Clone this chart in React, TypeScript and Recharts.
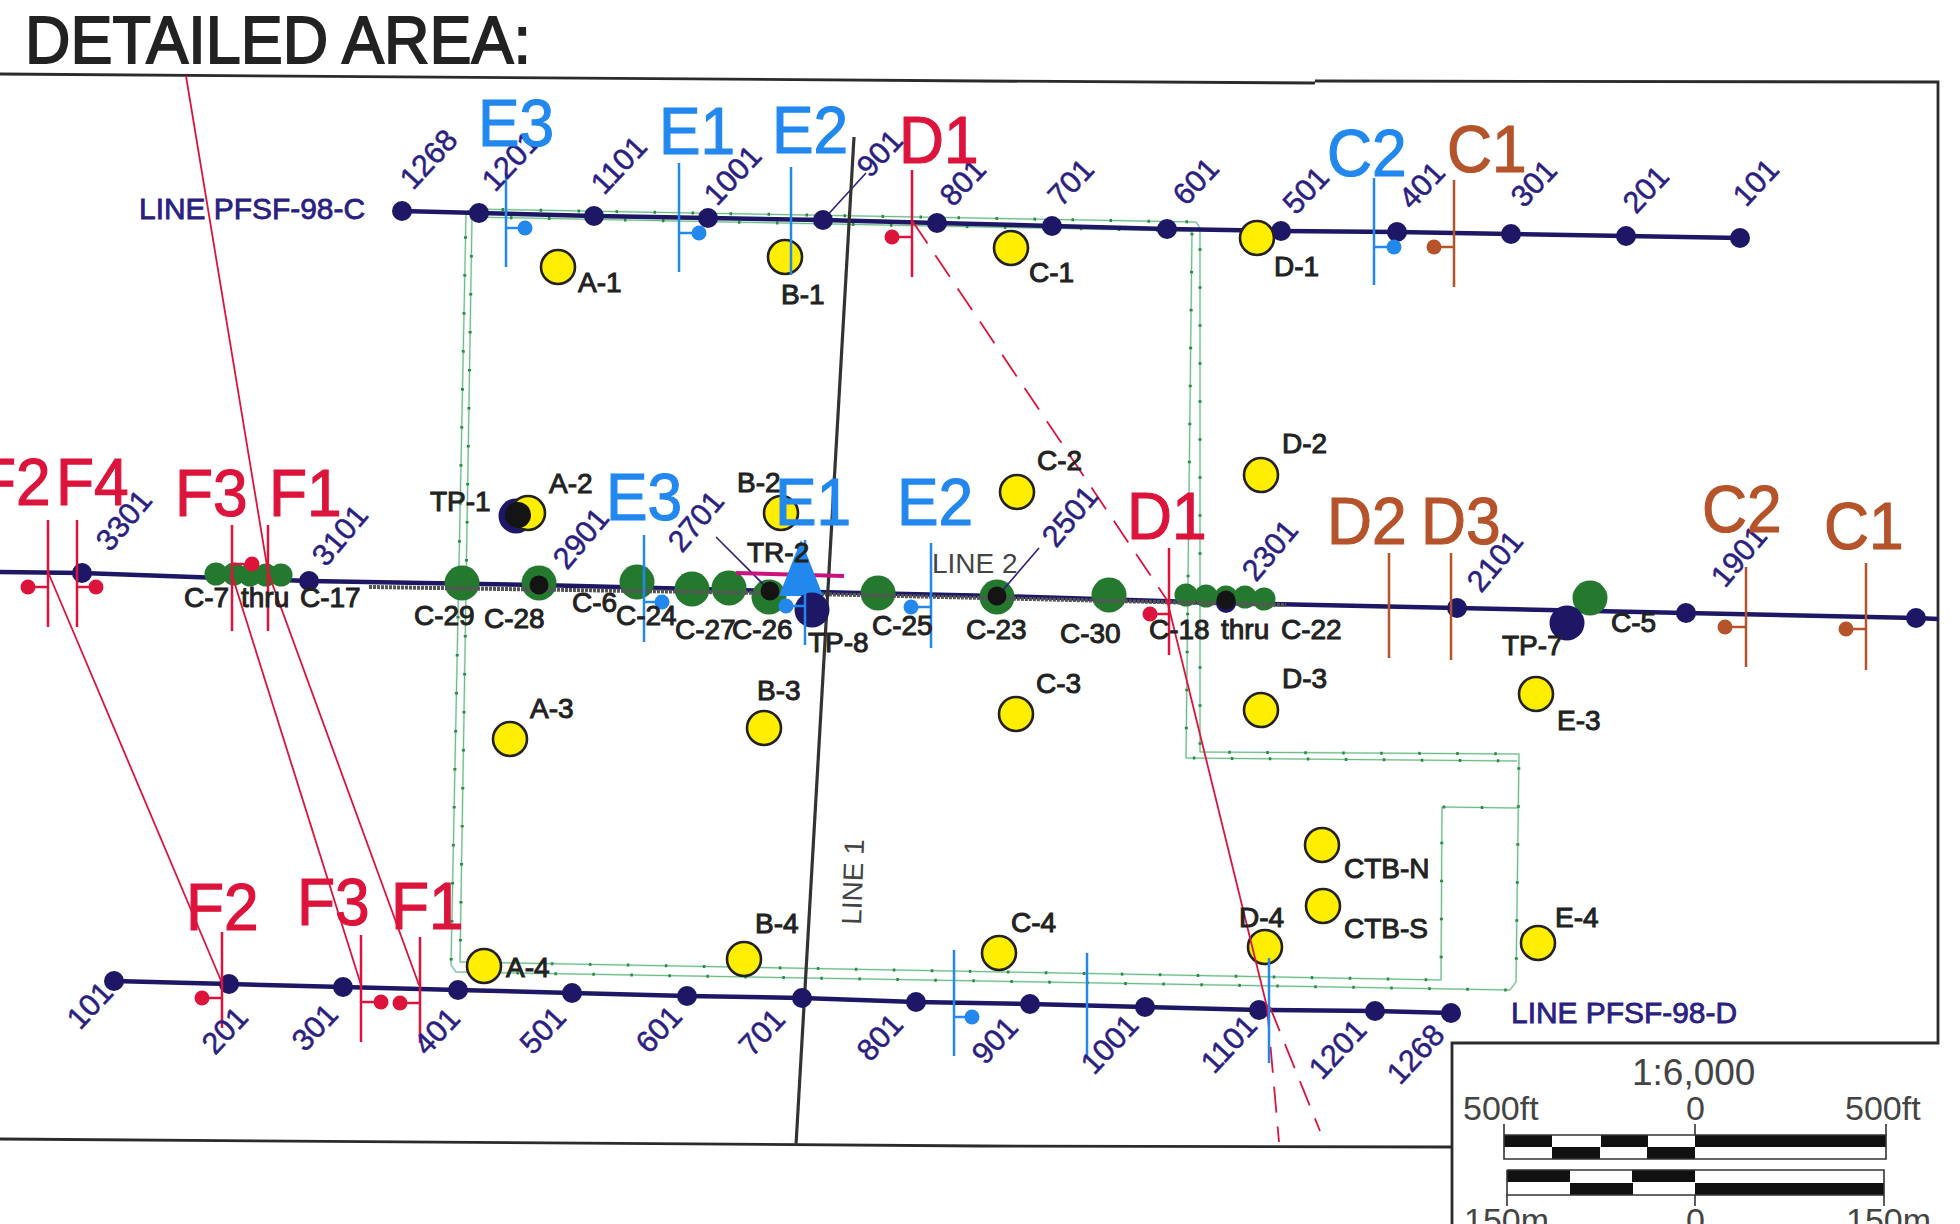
import React from 'react';
import { ScatterChart, Scatter, XAxis, YAxis } from 'recharts';

type P = { x: number; y: number };
type L = { name: string; x: number; y: number };
type T = { x: number; top: number; bottom: number; dotX?: number; dotY?: number };

const FONT = '"Liberation Sans", Arial, sans-serif';
const NAVY = '#1d1766';
const NAVY_TEXT = '#2a2080';
const BLUE = '#2288ee';
const RED = '#dc143c';
const BROWN = '#b5532a';
const INK = '#222222';

const lineC: L[] = [
  { name: '1268', x: 402, y: 211 }, { name: '1201', x: 479, y: 213 }, { name: '1101', x: 594, y: 216 },
  { name: '1001', x: 708, y: 218 }, { name: '901', x: 823, y: 220 }, { name: '801', x: 937, y: 223 },
  { name: '701', x: 1052, y: 226 }, { name: '601', x: 1167, y: 229 }, { name: '501', x: 1281, y: 231 },
  { name: '401', x: 1397, y: 232 }, { name: '301', x: 1511, y: 234 }, { name: '201', x: 1626, y: 236 },
  { name: '101', x: 1740, y: 238 },
];
const lineCLabels: L[] = [
  { name: '1268', x: 413, y: 191 }, { name: '1201', x: 495, y: 193 }, { name: '1101', x: 604, y: 196 },
  { name: '1001', x: 717, y: 207 }, { name: '901', x: 870, y: 179 }, { name: '801', x: 953, y: 208 },
  { name: '701', x: 1061, y: 208 }, { name: '601', x: 1186, y: 207 }, { name: '501', x: 1296, y: 216 },
  { name: '401', x: 1412, y: 211 }, { name: '301', x: 1524, y: 209 }, { name: '201', x: 1636, y: 215 },
  { name: '101', x: 1746, y: 208 },
];
const lineMid: P[] = [
  { x: 0, y: 572 }, { x: 82, y: 573 }, { x: 309, y: 581 }, { x: 539, y: 585 }, { x: 770, y: 591 },
  { x: 997, y: 596 }, { x: 1226, y: 603 }, { x: 1457, y: 608 }, { x: 1686, y: 613 }, { x: 1916, y: 618 }, { x: 1938, y: 619 },
];
const navyNodesMid: P[] = [
  { x: 82, y: 573 }, { x: 309, y: 581 }, { x: 1226, y: 603 }, { x: 1457, y: 608 }, { x: 1686, y: 613 }, { x: 1916, y: 618 },
];
const blackNodesMid: P[] = [{ x: 539, y: 585 }, { x: 770, y: 591 }, { x: 997, y: 596 }, { x: 1226, y: 600 }];
const lineMidLabels: L[] = [
  { name: '3301', x: 110, y: 553 }, { name: '3101', x: 326, y: 568 }, { name: '2901', x: 567, y: 571 },
  { name: '2701', x: 682, y: 554 }, { name: '2501', x: 1056, y: 549 }, { name: '2301', x: 1256, y: 583 },
  { name: '2101', x: 1481, y: 594 }, { name: '1901', x: 1725, y: 589 },
];
const lineD: L[] = [
  { name: '101', x: 114, y: 981 }, { name: '201', x: 229, y: 984 }, { name: '301', x: 343, y: 987 },
  { name: '401', x: 458, y: 990 }, { name: '501', x: 572, y: 993 }, { name: '601', x: 687, y: 996 },
  { name: '701', x: 802, y: 998 }, { name: '801', x: 916, y: 1002 }, { name: '901', x: 1030, y: 1004 },
  { name: '1001', x: 1145, y: 1007 }, { name: '1101', x: 1259, y: 1010 }, { name: '1201', x: 1375, y: 1011 },
  { name: '1268', x: 1451, y: 1013 },
];
const lineDLabels: L[] = [
  { name: '101', x: 80, y: 1031 }, { name: '201', x: 215, y: 1056 }, { name: '301', x: 305, y: 1053 },
  { name: '401', x: 427, y: 1057 }, { name: '501', x: 533, y: 1056 }, { name: '601', x: 649, y: 1055 },
  { name: '701', x: 752, y: 1058 }, { name: '801', x: 870, y: 1063 }, { name: '901', x: 985, y: 1066 },
  { name: '1001', x: 1094, y: 1076 }, { name: '1101', x: 1214, y: 1075 }, { name: '1201', x: 1322, y: 1081 },
  { name: '1268', x: 1400, y: 1086 },
];
const largeProbes: P[] = [{ x: 812, y: 610 }, { x: 1567, y: 623 }, { x: 516, y: 516 }];
const greenLarge: P[] = [
  { x: 462, y: 583 }, { x: 539, y: 583 }, { x: 637, y: 582 }, { x: 692, y: 589 }, { x: 729, y: 588 }, { x: 769, y: 597 },
  { x: 878, y: 593 }, { x: 997, y: 597 }, { x: 1109, y: 595 }, { x: 1590, y: 598 },
];
const greenSmall: P[] = [
  { x: 216, y: 574 }, { x: 234, y: 574 }, { x: 250, y: 575 }, { x: 266, y: 575 }, { x: 281, y: 575 },
  { x: 1186, y: 595 }, { x: 1206, y: 596 }, { x: 1226, y: 597 }, { x: 1245, y: 597 }, { x: 1264, y: 599 },
];
const yellowWells: P[] = [
  { x: 558, y: 267 }, { x: 785, y: 257 }, { x: 1011, y: 248 }, { x: 1257, y: 238 }, { x: 528, y: 513 }, { x: 781, y: 513 },
  { x: 1017, y: 492 }, { x: 1261, y: 475 }, { x: 510, y: 739 }, { x: 764, y: 728 }, { x: 1016, y: 714 }, { x: 1261, y: 710 },
  { x: 1536, y: 694 }, { x: 484, y: 966 }, { x: 744, y: 959 }, { x: 999, y: 953 }, { x: 1265, y: 947 }, { x: 1322, y: 845 },
  { x: 1323, y: 906 }, { x: 1538, y: 943 },
];
const overlapSpot: P[] = [{ x: 518, y: 515 }];
const triangleSpot: P[] = [{ x: 801, y: 570 }];

const blackLabels: L[] = [
  { name: 'A-1', x: 578, y: 292 }, { name: 'B-1', x: 781, y: 304 }, { name: 'C-1', x: 1029, y: 282 }, { name: 'D-1', x: 1274, y: 276 },
  { name: 'D-2', x: 1282, y: 453 }, { name: 'TP-1', x: 430, y: 511 }, { name: 'A-2', x: 549, y: 493 }, { name: 'B-2', x: 737, y: 492 },
  { name: 'TR-2', x: 747, y: 562 }, { name: 'C-7', x: 184, y: 607 }, { name: 'thru', x: 241, y: 607 }, { name: 'C-17', x: 300, y: 607 },
  { name: 'C-29', x: 414, y: 625 }, { name: 'C-28', x: 484, y: 628 }, { name: 'C-6', x: 572, y: 612 }, { name: 'C-24', x: 616, y: 625 },
  { name: 'C-27', x: 675, y: 639 }, { name: 'C-26', x: 732, y: 639 }, { name: 'TP-8', x: 808, y: 652 }, { name: 'C-25', x: 872, y: 635 },
  { name: 'C-23', x: 966, y: 639 }, { name: 'C-30', x: 1060, y: 643 }, { name: 'C-18', x: 1149, y: 639 }, { name: 'thru', x: 1221, y: 639 },
  { name: 'C-22', x: 1281, y: 639 }, { name: 'C-2', x: 1037, y: 470 }, { name: 'C-5', x: 1611, y: 632 }, { name: 'TP-7', x: 1502, y: 655 },
  { name: 'C-3', x: 1036, y: 693 }, { name: 'D-3', x: 1282, y: 688 }, { name: 'E-3', x: 1557, y: 730 }, { name: 'A-3', x: 530, y: 718 },
  { name: 'B-3', x: 757, y: 700 }, { name: 'A-4', x: 506, y: 977 }, { name: 'B-4', x: 755, y: 933 }, { name: 'C-4', x: 1011, y: 932 },
  { name: 'D-4', x: 1239, y: 927 }, { name: 'CTB-N', x: 1344, y: 878 }, { name: 'CTB-S', x: 1344, y: 938 }, { name: 'E-4', x: 1555, y: 927 },
];
const lineNames: L[] = [{ name: 'LINE PFSF-98-C', x: 139, y: 219 }, { name: 'LINE PFSF-98-D', x: 1511, y: 1023 }];
const line2Name: L[] = [{ name: 'LINE 2', x: 932, y: 573 }];
const line1Name: L[] = [{ name: 'LINE 1', x: 861, y: 925 }];
const titleText: L[] = [{ name: 'DETAILED AREA:', x: 25, y: 63 }];

const blueSectionLabels: L[] = [
  { name: 'E3', x: 478, y: 146 }, { name: 'E1', x: 659, y: 154 }, { name: 'E2', x: 772, y: 153 }, { name: 'C2', x: 1327, y: 176 },
  { name: 'E3', x: 606, y: 520 }, { name: 'E1', x: 775, y: 525 }, { name: 'E2', x: 897, y: 525 },
];
const redSectionLabels: L[] = [
  { name: 'D1', x: 899, y: 163 }, { name: 'F2', x: -22, y: 505 }, { name: 'F4', x: 56, y: 505 }, { name: 'F3', x: 175, y: 516 },
  { name: 'F1', x: 269, y: 516 }, { name: 'D1', x: 1127, y: 539 }, { name: 'F2', x: 186, y: 930 }, { name: 'F3', x: 297, y: 925 }, { name: 'F1', x: 391, y: 929 },
];
const brownSectionLabels: L[] = [
  { name: 'C1', x: 1447, y: 172 }, { name: 'D2', x: 1327, y: 544 }, { name: 'D3', x: 1421, y: 544 }, { name: 'C2', x: 1702, y: 532 }, { name: 'C1', x: 1824, y: 549 },
];

const blueTicks: T[] = [
  { x: 506, top: 173, bottom: 267, dotX: 525, dotY: 228 }, { x: 679, top: 163, bottom: 272, dotX: 699, dotY: 233 }, { x: 791, top: 167, bottom: 275 },
  { x: 1374, top: 178, bottom: 285, dotX: 1394, dotY: 247 }, { x: 644, top: 535, bottom: 642, dotX: 662, dotY: 602 },
  { x: 805, top: 540, bottom: 645, dotX: 786, dotY: 606 }, { x: 931, top: 543, bottom: 648, dotX: 911, dotY: 607 },
  { x: 954, top: 950, bottom: 1056, dotX: 972, dotY: 1017 }, { x: 1087, top: 953, bottom: 1058 }, { x: 1269, top: 958, bottom: 1063 },
];
const redTicks: T[] = [
  { x: 912, top: 170, bottom: 277, dotX: 892, dotY: 237 }, { x: 48, top: 520, bottom: 627, dotX: 28, dotY: 587 }, { x: 77, top: 520, bottom: 627, dotX: 96, dotY: 587 },
  { x: 232, top: 525, bottom: 631, dotX: 252, dotY: 564 }, { x: 268, top: 525, bottom: 631 }, { x: 1169, top: 548, bottom: 655, dotX: 1150, dotY: 614 },
  { x: 222, top: 932, bottom: 1028, dotX: 202, dotY: 998 }, { x: 361, top: 935, bottom: 1042, dotX: 381, dotY: 1002 }, { x: 420, top: 937, bottom: 1043, dotX: 400, dotY: 1003 },
];
const brownTicks: T[] = [
  { x: 1454, top: 180, bottom: 287, dotX: 1434, dotY: 247 }, { x: 1389, top: 553, bottom: 658 }, { x: 1451, top: 553, bottom: 660 },
  { x: 1746, top: 567, bottom: 667, dotX: 1725, dotY: 627 }, { x: 1866, top: 563, bottom: 670, dotX: 1846, dotY: 629 },
];

const frameLines: P[][] = [
  [{ x: 0, y: 74 }, { x: 980, y: 81 }, { x: 1315, y: 83 }],
  [{ x: 1315, y: 81 }, { x: 1938, y: 82 }, { x: 1938, y: 1043 }, { x: 1452, y: 1043 }, { x: 1452, y: 1224 }],
  [{ x: 0, y: 1139 }, { x: 980, y: 1146 }, { x: 1452, y: 1147 }],
];
const fenceOuter: P[] = [
  { x: 466, y: 214 }, { x: 470, y: 209 }, { x: 1196, y: 222 }, { x: 1200, y: 228 }, { x: 1200, y: 752 }, { x: 1519, y: 754 },
  { x: 1516, y: 982 }, { x: 1510, y: 990 }, { x: 456, y: 972 }, { x: 451, y: 965 }, { x: 466, y: 214 },
];
const fenceInner: P[] = [
  { x: 472, y: 217 }, { x: 1192, y: 231 }, { x: 1186, y: 758 }, { x: 1517, y: 761 },
];
const fenceInnerLower: P[] = [
  { x: 472, y: 217 }, { x: 460, y: 962 }, { x: 1441, y: 980 }, { x: 1442, y: 807 }, { x: 1517, y: 808 },
];
const line1Path: P[] = [{ x: 854, y: 137 }, { x: 796, y: 1145 }];
const line2Path: P[] = [{ x: 369, y: 587 }, { x: 770, y: 593 }, { x: 1286, y: 605 }];
const tr2Path: P[] = [{ x: 736, y: 573 }, { x: 844, y: 576 }];
const leadLines: P[][] = [
  [{ x: 823, y: 220 }, { x: 866, y: 173 }],
  [{ x: 716, y: 537 }, { x: 769, y: 590 }],
  [{ x: 997, y: 597 }, { x: 1039, y: 548 }],
];
const redSolid: P[][] = [
  [{ x: 186, y: 76 }, { x: 268, y: 572 }, { x: 419, y: 985 }],
  [{ x: 232, y: 575 }, { x: 361, y: 985 }],
  [{ x: 48, y: 572 }, { x: 222, y: 983 }],
  [{ x: 1167, y: 600 }, { x: 1267, y: 1007 }],
];
const redDashed: P[][] = [
  [{ x: 913, y: 222 }, { x: 1167, y: 600 }],
  [{ x: 1267, y: 1007 }, { x: 1279, y: 1142 }],
  [{ x: 1270, y: 1007 }, { x: 1320, y: 1131 }],
];

// Scale box: [start, end] of each filled run, one list per row, at the row's height.
const scaleRows: { y: number; runs: number[][] }[] = [
  { y: 1141, runs: [[1504, 1552], [1601, 1648], [1695, 1886]] },
  { y: 1153, runs: [[1552, 1600], [1647, 1695]] },
  { y: 1176, runs: [[1507, 1570], [1632, 1695]] },
  { y: 1189, runs: [[1570, 1633], [1695, 1884]] },
];
const scaleOutlines: P[][] = [
  [{ x: 1504, y: 1135 }, { x: 1886, y: 1135 }, { x: 1886, y: 1159 }, { x: 1504, y: 1159 }, { x: 1504, y: 1135 }],
  [{ x: 1507, y: 1170 }, { x: 1884, y: 1170 }, { x: 1884, y: 1195 }, { x: 1507, y: 1195 }, { x: 1507, y: 1170 }],
  [{ x: 1504, y: 1124 }, { x: 1504, y: 1135 }], [{ x: 1695, y: 1124 }, { x: 1695, y: 1135 }], [{ x: 1886, y: 1124 }, { x: 1886, y: 1135 }],
  [{ x: 1507, y: 1195 }, { x: 1507, y: 1206 }], [{ x: 1695, y: 1195 }, { x: 1695, y: 1206 }], [{ x: 1884, y: 1195 }, { x: 1884, y: 1206 }],
];
const scaleLabels: L[] = [
  { name: '500ft', x: 1463, y: 1120 }, { name: '0', x: 1686, y: 1120 }, { name: '500ft', x: 1845, y: 1120 },
  { name: '150m', x: 1464, y: 1232 }, { name: '0', x: 1686, y: 1232 }, { name: '150m', x: 1846, y: 1232 },
];
const scaleRatio: L[] = [{ name: '1:6,000', x: 1632, y: 1085 }];

let seq = 0;
const none = () => null;

function path(points: P[], stroke: string, width: number, dash?: string) {
  return (
    <Scatter key={`p${seq++}`} data={points} shape={none} isAnimationActive={false} lineType="joint"
      line={{ stroke, strokeWidth: width, strokeDasharray: dash, fill: 'none' }} />
  );
}
function dots(points: P[], r: number, fill: string, stroke = 'none', sw = 0) {
  const shape = (p: any) => <circle cx={p.cx} cy={p.cy} r={r} fill={fill} stroke={stroke} strokeWidth={sw} />;
  return <Scatter key={`d${seq++}`} data={points} shape={shape} isAnimationActive={false} />;
}
type TextStyle = { size: number; fill: string; rotate?: number; sx?: number; bold?: number; length?: number; blend?: boolean };
function texts(items: L[], s: TextStyle) {
  const shape = (p: any) => (
    <text
      transform={`translate(${p.cx},${p.cy}) rotate(${s.rotate ?? 0}) scale(${s.sx ?? 1},1)`}
      fontFamily={FONT} fontSize={s.size} fill={s.fill} stroke={s.bold ? s.fill : 'none'} strokeWidth={s.bold ?? 0}
      textLength={s.length} lengthAdjust={s.length ? 'spacingAndGlyphs' : undefined}
      style={s.blend ? { mixBlendMode: 'multiply' } : undefined}
    >
      {p.payload.name}
    </text>
  );
  return <Scatter key={`t${seq++}`} data={items} shape={shape} isAnimationActive={false} />;
}
function ticks(list: T[], colour: string) {
  const withDots = list.filter((t) => t.dotX !== undefined);
  return [
    ...list.map((t) => path([{ x: t.x, y: t.top }, { x: t.x, y: t.bottom }], colour, 2.5)),
    ...withDots.map((t) => path([{ x: t.x, y: t.dotY as number }, { x: t.dotX as number, y: t.dotY as number }], colour, 2.5)),
    dots(withDots.map((t) => ({ x: t.dotX as number, y: t.dotY as number })), 7.5, colour),
  ];
}
const triangle = (p: any) => (
  <path d={`M${p.cx},${p.cy - 30} L${p.cx - 22},${p.cy + 26} L${p.cx + 22},${p.cy + 26} Z`} fill={BLUE} />
);

export default function App() {
  seq = 0;
  const fence = [fenceOuter, fenceInner, fenceInnerLower];
  const section = { size: 67, sx: 0.93, bold: 1.2, blend: true };
  return (
    <div style={{ position: 'absolute', left: 0, top: 0, width: 1960, height: 1224, background: '#fff', overflow: 'hidden' }}>
      <ScatterChart width={1960} height={1224} margin={{ top: 0, right: 0, bottom: 0, left: 0 }}>
        <XAxis type="number" dataKey="x" domain={[0, 1960]} allowDataOverflow hide />
        <YAxis type="number" dataKey="y" domain={[0, 1224]} allowDataOverflow reversed hide width={0} />

        {frameLines.map((l) => path(l, '#2b2b2b', 2.8))}
        {fence.map((l) => path(l, '#c8ece6', 2.2))}
        {fence.map((l) => path(l, '#6fb878', 1))}
        {fence.map((l) => path(l, '#2a8a42', 3, '2.5 35.5'))}

        {path(lineC, NAVY, 4.5)}
        {path(lineD, NAVY, 4.5)}
        {path(lineMid, NAVY, 4.5)}

        {dots(greenLarge, 17.5, '#24792f')}
        {dots(greenSmall, 11.5, '#24792f')}
        {path(line2Path, '#555555', 4, '3 1')}
        {leadLines.map((l) => path(l, NAVY_TEXT, 1.6))}
        {path(line1Path, '#333333', 3.2)}
        {path(tr2Path, '#c8147c', 4)}
        <Scatter key="tri" data={triangleSpot} shape={triangle} isAnimationActive={false} />

        {dots(lineC, 10, NAVY)}
        {dots(lineD, 10, NAVY)}
        {dots(navyNodesMid, 10, NAVY)}
        {dots(largeProbes, 17.5, NAVY)}
        {dots(blackNodesMid, 9.5, '#141414')}
        {dots(yellowWells, 17, '#ffee00', '#222222', 2.6)}
        {dots(overlapSpot, 13, '#141414')}

        {redSolid.map((l) => path(l, RED, 1.8))}
        {redDashed.map((l) => path(l, RED, 1.8, '26 14'))}
        {ticks(blueTicks, BLUE)}
        {ticks(redTicks, RED)}
        {ticks(brownTicks, BROWN)}

        {texts(lineCLabels, { size: 30.5, fill: NAVY_TEXT, rotate: -47, bold: 0.5 })}
        {texts(lineMidLabels, { size: 30.5, fill: NAVY_TEXT, rotate: -50, bold: 0.5 })}
        {texts(lineDLabels, { size: 30.5, fill: NAVY_TEXT, rotate: -47, bold: 0.5 })}
        {texts(blackLabels, { size: 28, fill: INK, bold: 1 })}
        {texts(lineNames, { size: 29, fill: NAVY_TEXT, bold: 0.8, length: 226 })}
        {texts(line2Name, { size: 28, fill: '#444444' })}
        {texts(line1Name, { size: 28, fill: '#444444', rotate: -88 })}
        {texts(titleText, { size: 67, fill: INK, bold: 1.8, length: 506 })}
        {texts(blueSectionLabels, { ...section, fill: BLUE })}
        {texts(redSectionLabels, { ...section, fill: RED })}
        {texts(brownSectionLabels, { ...section, fill: BROWN })}

        {scaleRows.flatMap((row) => row.runs.map((r) => path([{ x: r[0], y: row.y }, { x: r[1], y: row.y }], '#111111', 12)))}
        {scaleOutlines.map((l) => path(l, '#333333', 1.6))}
        {texts(scaleRatio, { size: 37, fill: '#444444' })}
        {texts(scaleLabels, { size: 34, fill: '#444444' })}
      </ScatterChart>
    </div>
  );
}
